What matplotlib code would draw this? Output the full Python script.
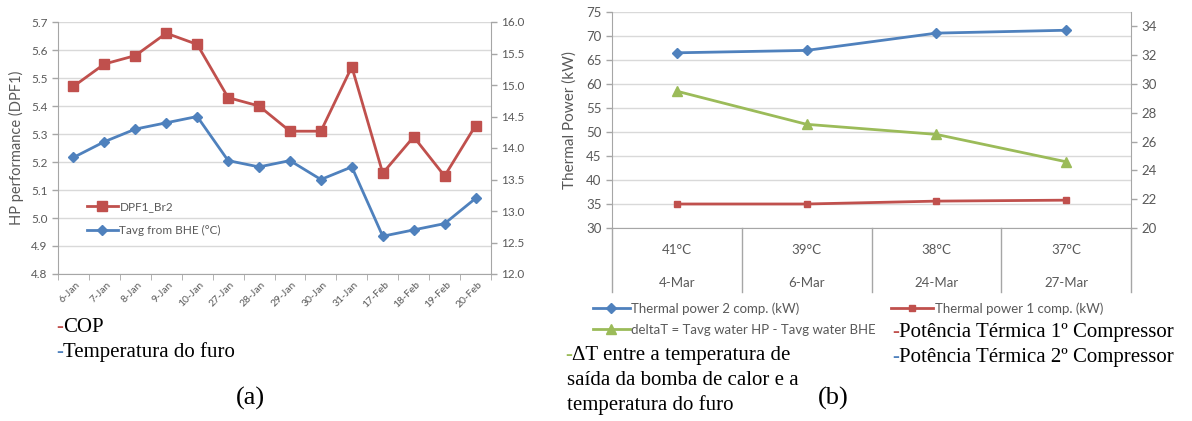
import numpy as np
import matplotlib
matplotlib.use("Agg")
import matplotlib.pyplot as plt
from matplotlib.transforms import ScaledTranslation, blended_transform_factory

# (a) daily heat pump performance and borehole temperature
days = ["6-Jan", "7-Jan", "8-Jan", "9-Jan", "10-Jan", "27-Jan", "28-Jan",
        "29-Jan", "30-Jan", "31-Jan", "17-Feb", "18-Feb", "19-Feb", "20-Feb"]
dpf1 = [5.47, 5.55, 5.58, 5.66, 5.62, 5.43, 5.40, 5.31, 5.31, 5.54, 5.16, 5.29, 5.15, 5.33]
tavg_bhe = [13.85, 14.1, 14.3, 14.4, 14.5, 13.8, 13.7, 13.8, 13.5, 13.7, 12.6, 12.7, 12.8, 13.2]

# (b) thermal power per test day
test_temps = ["41°C", "39°C", "38°C", "37°C"]
test_days = ["4-Mar", "6-Mar", "24-Mar", "27-Mar"]
power_2comp = [66.5, 67.0, 70.6, 71.2]
power_1comp = [35.0, 35.0, 35.6, 35.8]
delta_t = [29.5, 27.2, 26.5, 24.6]

RED = "#c0504d"
BLUE = "#4f81bd"
GREEN = "#9bbb59"
AXIS_GREY = "#a6a6a6"
GRID_GREY = "#d9d9d9"
LABEL_GREY = "#595959"

W, H = 1192, 421
SANS = ["Lato", "DejaVu Sans"]
SERIF = ["Liberation Serif", "DejaVu Serif"]

plt.rcParams["font.family"] = SANS


def px_box(x0, y0, x1, y1):
    """Axes rectangle from pixel corners (top-left origin)."""
    return [x0 / W, 1 - y1 / H, (x1 - x0) / W, (y1 - y0) / H]


def style_axis(ax, sides, size):
    for s in ["top", "left", "right", "bottom"]:
        ax.spines[s].set_visible(s in sides)
        ax.spines[s].set_color(AXIS_GREY)
    ax.tick_params(axis="both", colors=AXIS_GREY, labelcolor=LABEL_GREY,
                   labelsize=size, length=4, width=1)


fig = plt.figure(figsize=(W / 100, H / 100), dpi=100)

# ---------------- chart (a) ----------------
ax1 = fig.add_axes(px_box(58, 22, 491, 274))
ax1b = ax1.twinx()
x = np.arange(len(days))

ax1.plot(x, dpf1, color=RED, lw=2, marker="s", ms=7, label="DPF1_Br2", zorder=3)
ax1b.plot(x, tavg_bhe, color=BLUE, lw=2, marker="D", ms=5, label="Tavg from BHE (°C)", zorder=3)

ax1.set_xlim(-0.5, len(days) - 0.5)
ax1.set_ylim(4.8, 5.7)
ax1.set_yticks(np.arange(4.8, 5.71, 0.1))
ax1.set_yticklabels([f"{v:.1f}" for v in np.arange(4.8, 5.71, 0.1)])
ax1b.set_ylim(12, 16)
ax1b.set_yticks(np.arange(12, 16.01, 0.5))
ax1b.set_yticklabels([f"{v:.1f}" for v in np.arange(12, 16.01, 0.5)])
ax1.yaxis.grid(True, color=GRID_GREY, lw=1)
ax1.set_axisbelow(True)

style_axis(ax1, ["left", "bottom"], 8.5)
style_axis(ax1b, ["right"], 8.5)

ax1.set_xticks(x)
ax1.set_xticks(np.arange(-0.5, len(days)), minor=True)
ax1.tick_params(axis="x", which="major", length=0, pad=6.5, labelsize=7.5)
ax1.tick_params(axis="x", which="minor", length=4, color=AXIS_GREY)
ax1.set_xticklabels(days, rotation=45, ha="right", va="center", rotation_mode="anchor")
shift = ScaledTranslation(5 / 100, 0, fig.dpi_scale_trans)
for lab in ax1.get_xticklabels():
    lab.set_transform(lab.get_transform() + shift)

ax1.set_ylabel("HP performance (DPF1)", fontsize=10.5, color=LABEL_GREY)
ax1.yaxis.set_label_coords(-34 / 433, 0.5)

h1, l1 = ax1.get_legend_handles_labels()
h2, l2 = ax1b.get_legend_handles_labels()
fig.legend(h1 + h2, l1 + l2, loc="center left",
           bbox_to_anchor=(87 / W, 1 - 218.5 / H), frameon=False,
           fontsize=8.5, handlelength=2.6, handletextpad=0.15,
           labelspacing=1.1, borderpad=0, borderaxespad=0, labelcolor=LABEL_GREY)

# ---------------- chart (b) ----------------
ax2 = fig.add_axes(px_box(612, 12, 1131, 228))
ax2b = ax2.twinx()
xb = np.arange(len(test_days))

l_p2, = ax2.plot(xb, power_2comp, color=BLUE, lw=2, marker="D", ms=5,
                 label="Thermal power 2 comp. (kW)", zorder=3)
l_p1, = ax2.plot(xb, power_1comp, color=RED, lw=2, marker="s", ms=5,
                 label="Thermal power 1 comp. (kW)", zorder=3)
l_dt, = ax2b.plot(xb, delta_t, color=GREEN, lw=2, marker="^", ms=7,
                  label="deltaT = Tavg water HP - Tavg water BHE", zorder=3)

ax2.set_xlim(-0.5, len(test_days) - 0.5)
ax2.set_ylim(30, 75)
ax2.set_yticks(np.arange(30, 76, 5))
ax2b.set_ylim(20, 35)
ax2b.set_yticks(np.arange(20, 35, 2))
ax2.yaxis.grid(True, color=GRID_GREY, lw=1)
ax2.set_axisbelow(True)
ax2.set_xticks([])

style_axis(ax2, ["left", "bottom"], 9.5)
style_axis(ax2b, ["right"], 9.5)

ax2.set_ylabel("Thermal Power (kW)", fontsize=11, color=LABEL_GREY)
ax2.yaxis.set_label_coords(-35 / 519, 0.5)

# two-level category axis with separators
cat_tr = blended_transform_factory(ax2.transData, ax2.transAxes)
for i, (t, d) in enumerate(zip(test_temps, test_days)):
    ax2.text(i, -22 / 216, t, transform=cat_tr, ha="center", va="center",
             fontsize=9.5, color=LABEL_GREY)
    ax2.text(i, -55 / 216, d, transform=cat_tr, ha="center", va="center",
             fontsize=9.5, color=LABEL_GREY)
for b in np.arange(-0.5, len(test_days)):
    ax2.plot([b, b], [0, -64 / 216], transform=cat_tr, color=AXIS_GREY,
             lw=1, clip_on=False)

fig.legend([l_p2, l_dt], [l_p2.get_label(), l_dt.get_label()], loc="upper left",
           bbox_to_anchor=(593 / W, 1 - 302 / H), frameon=False, fontsize=9.5,
           handlelength=2.8, handletextpad=0.1, labelspacing=0.7,
           borderpad=0, borderaxespad=0, labelcolor=LABEL_GREY)
fig.legend([l_p1], [l_p1.get_label()], loc="upper left",
           bbox_to_anchor=(891 / W, 1 - 302 / H), frameon=False, fontsize=9.5,
           handlelength=3.2, handletextpad=0.1,
           borderpad=0, borderaxespad=0, labelcolor=LABEL_GREY)

# ---------------- captions ----------------
cap = fig.add_axes([0, 0, 1, 1], zorder=-1)
cap.set_xlim(0, W)
cap.set_ylim(H, 0)
cap.axis("off")


def caption(xp, yp, dash_color, text, size=15):
    dash = cap.text(xp, yp, "-", color=dash_color, fontsize=size,
                    family=SERIF, va="baseline", ha="left")
    cap.annotate(text, xy=(1, 0), xycoords=dash, va="bottom", ha="left",
                 fontsize=size, family=SERIF, color="black")


caption(56, 332, RED, "COP")
caption(56, 357, BLUE, "Temperatura do furo")
cap.text(250, 398, "(a)", fontsize=19, family=SERIF, ha="center", va="center")

caption(565, 360, GREEN, "ΔT entre a temperatura de")
cap.text(567, 385, "saída da bomba de calor e a", fontsize=15, family=SERIF, va="baseline")
cap.text(567, 410, "temperatura do furo", fontsize=15, family=SERIF, va="baseline")
cap.text(833, 398, "(b)", fontsize=19, family=SERIF, ha="center", va="center")

caption(892, 337, RED, "Potência Térmica 1º Compressor")
caption(892, 362, BLUE, "Potência Térmica 2º Compressor")

fig.savefig("out.png", dpi=100)
